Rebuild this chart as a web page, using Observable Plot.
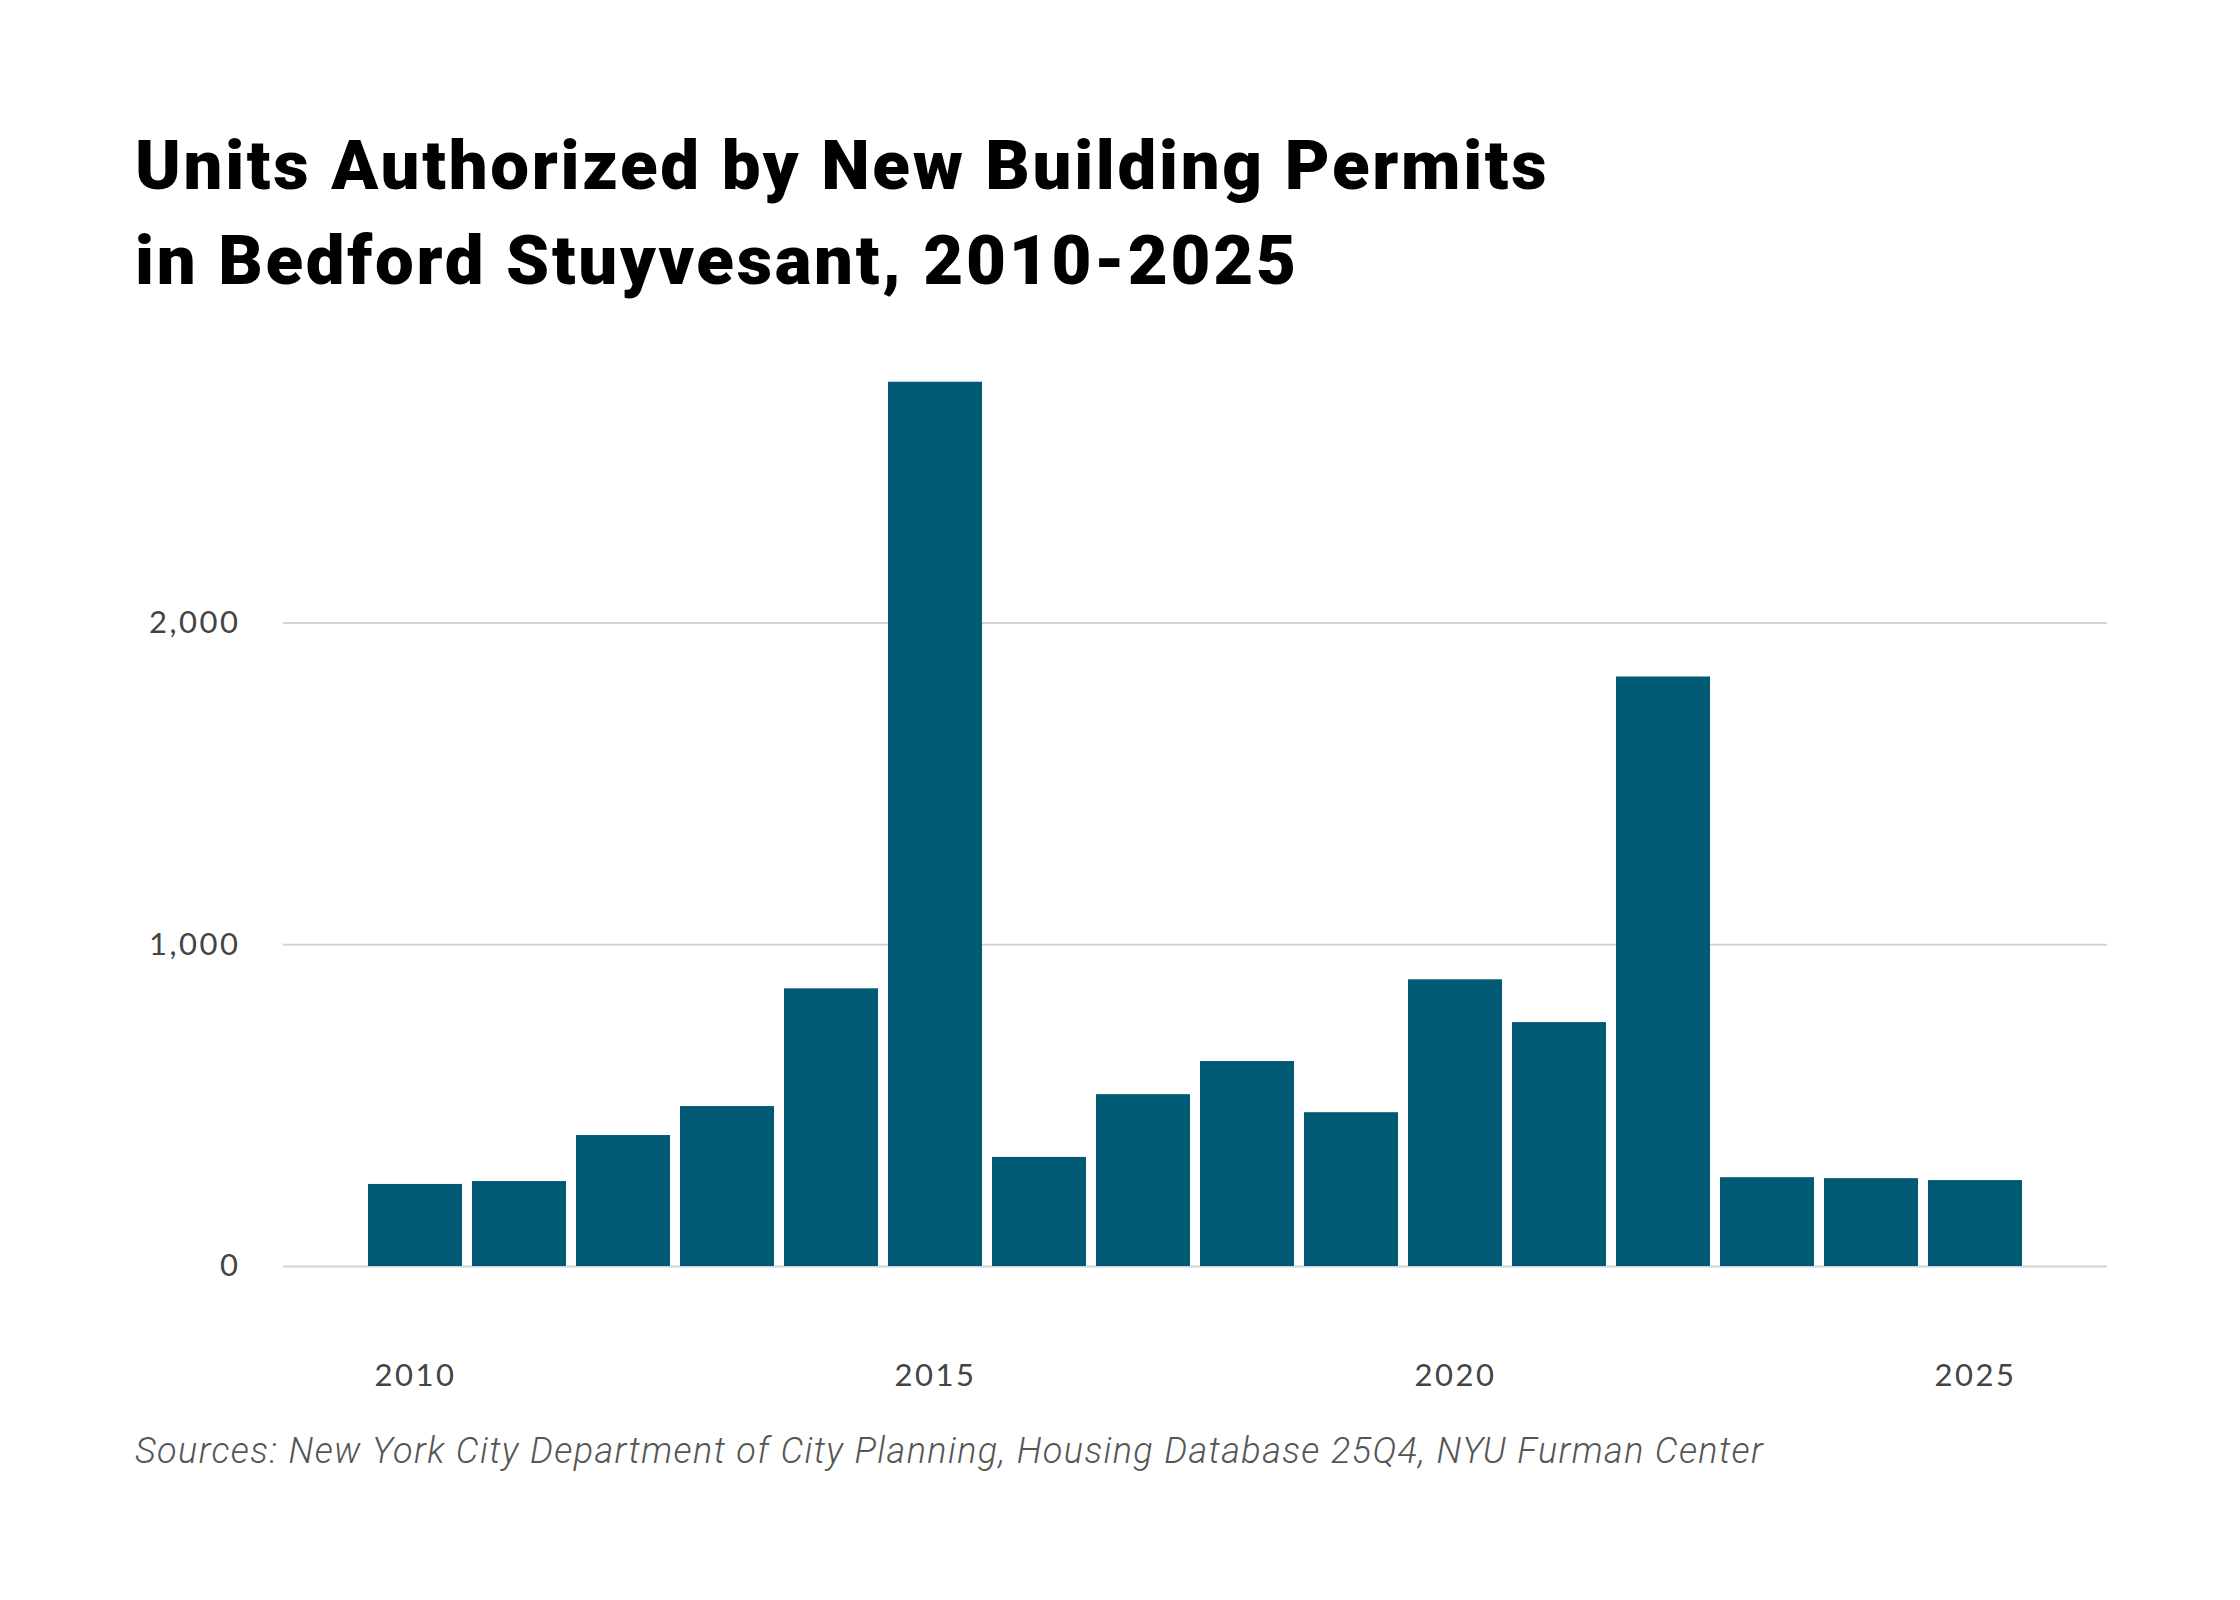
<!DOCTYPE html>
<html>
<head>
<meta charset="utf-8">
<script src="https://cdn.jsdelivr.net/npm/d3@7"></script>
<script src="https://cdn.jsdelivr.net/npm/@observablehq/plot@0.6"></script>
<style>
  html, body { margin: 0; padding: 0; background: #fff; }
  #wrap { width: 2240px; }
  #title {
    margin: 118px 0 0 135px;
    font-family: Roboto, sans-serif;
    font-weight: 900;
    font-size: 69px;
    letter-spacing: 2.7px;
    line-height: 95px;
    color: #000;
  }
  #chart { margin-top: 22px; height: 1100px; }
  #chart svg { display: block; }
  #chart svg text { letter-spacing: 2.5px; }
  #caption {
    margin: 1px 0 0 135px;
    font-family: Roboto, sans-serif;
    font-weight: 300;
    font-style: italic;
    font-size: 36px;
    letter-spacing: 1.4px;
    line-height: 40px;
    color: #555;
  }
</style>
</head>
<body>
<div id="wrap">
  <div id="title">Units Authorized by New Building Permits<br>in Bedford Stuyvesant, 2010-2025</div>
  <div id="chart"></div>
  <div id="caption">Sources: New York City Department of City Planning, Housing Database 25Q4, NYU Furman Center</div>
</div>
<script>
const years = [2010, 2011, 2012, 2013, 2014, 2015, 2016, 2017, 2018, 2019, 2020, 2021, 2022, 2023, 2024, 2025];
const units = [255, 264, 407, 497, 863, 2748, 339, 534, 637, 478, 891, 758, 1832, 276, 273, 267];
const yTicks = [0, 1000, 2000];
const xTicks = [2010, 2015, 2020, 2025];

const data = years.map((year, i) => ({year, units: units[i]}));

const chart = Plot.plot({
  width: 2240,
  height: 1100,
  marginLeft: 283,
  marginRight: 133,
  marginTop: 35,
  marginBottom: 164,
  style: {fontFamily: "Lato, sans-serif", fontSize: "31px", color: "#444", background: "#fff"},
  x: {type: "band", domain: years, paddingInner: 0.1, paddingOuter: 0.8, align: 0.5, label: null},
  y: {domain: [0, 2800], label: null},
  marks: [
    Plot.ruleY(yTicks, {stroke: "#d4d4d4", strokeWidth: 2}),
    Plot.barY(data, {x: "year", y: "units", fill: "#005a74"}),
    Plot.axisX({ticks: xTicks, tickSize: 0, tickPadding: 97, tickFormat: d => String(d), label: null, fill: "#444"}),
    Plot.axisY({ticks: yTicks, tickSize: 0, tickPadding: 43, tickFormat: d3.format(","), label: null, fill: "#444"})
  ]
});
document.getElementById("chart").appendChild(chart);
</script>
</body>
</html>
